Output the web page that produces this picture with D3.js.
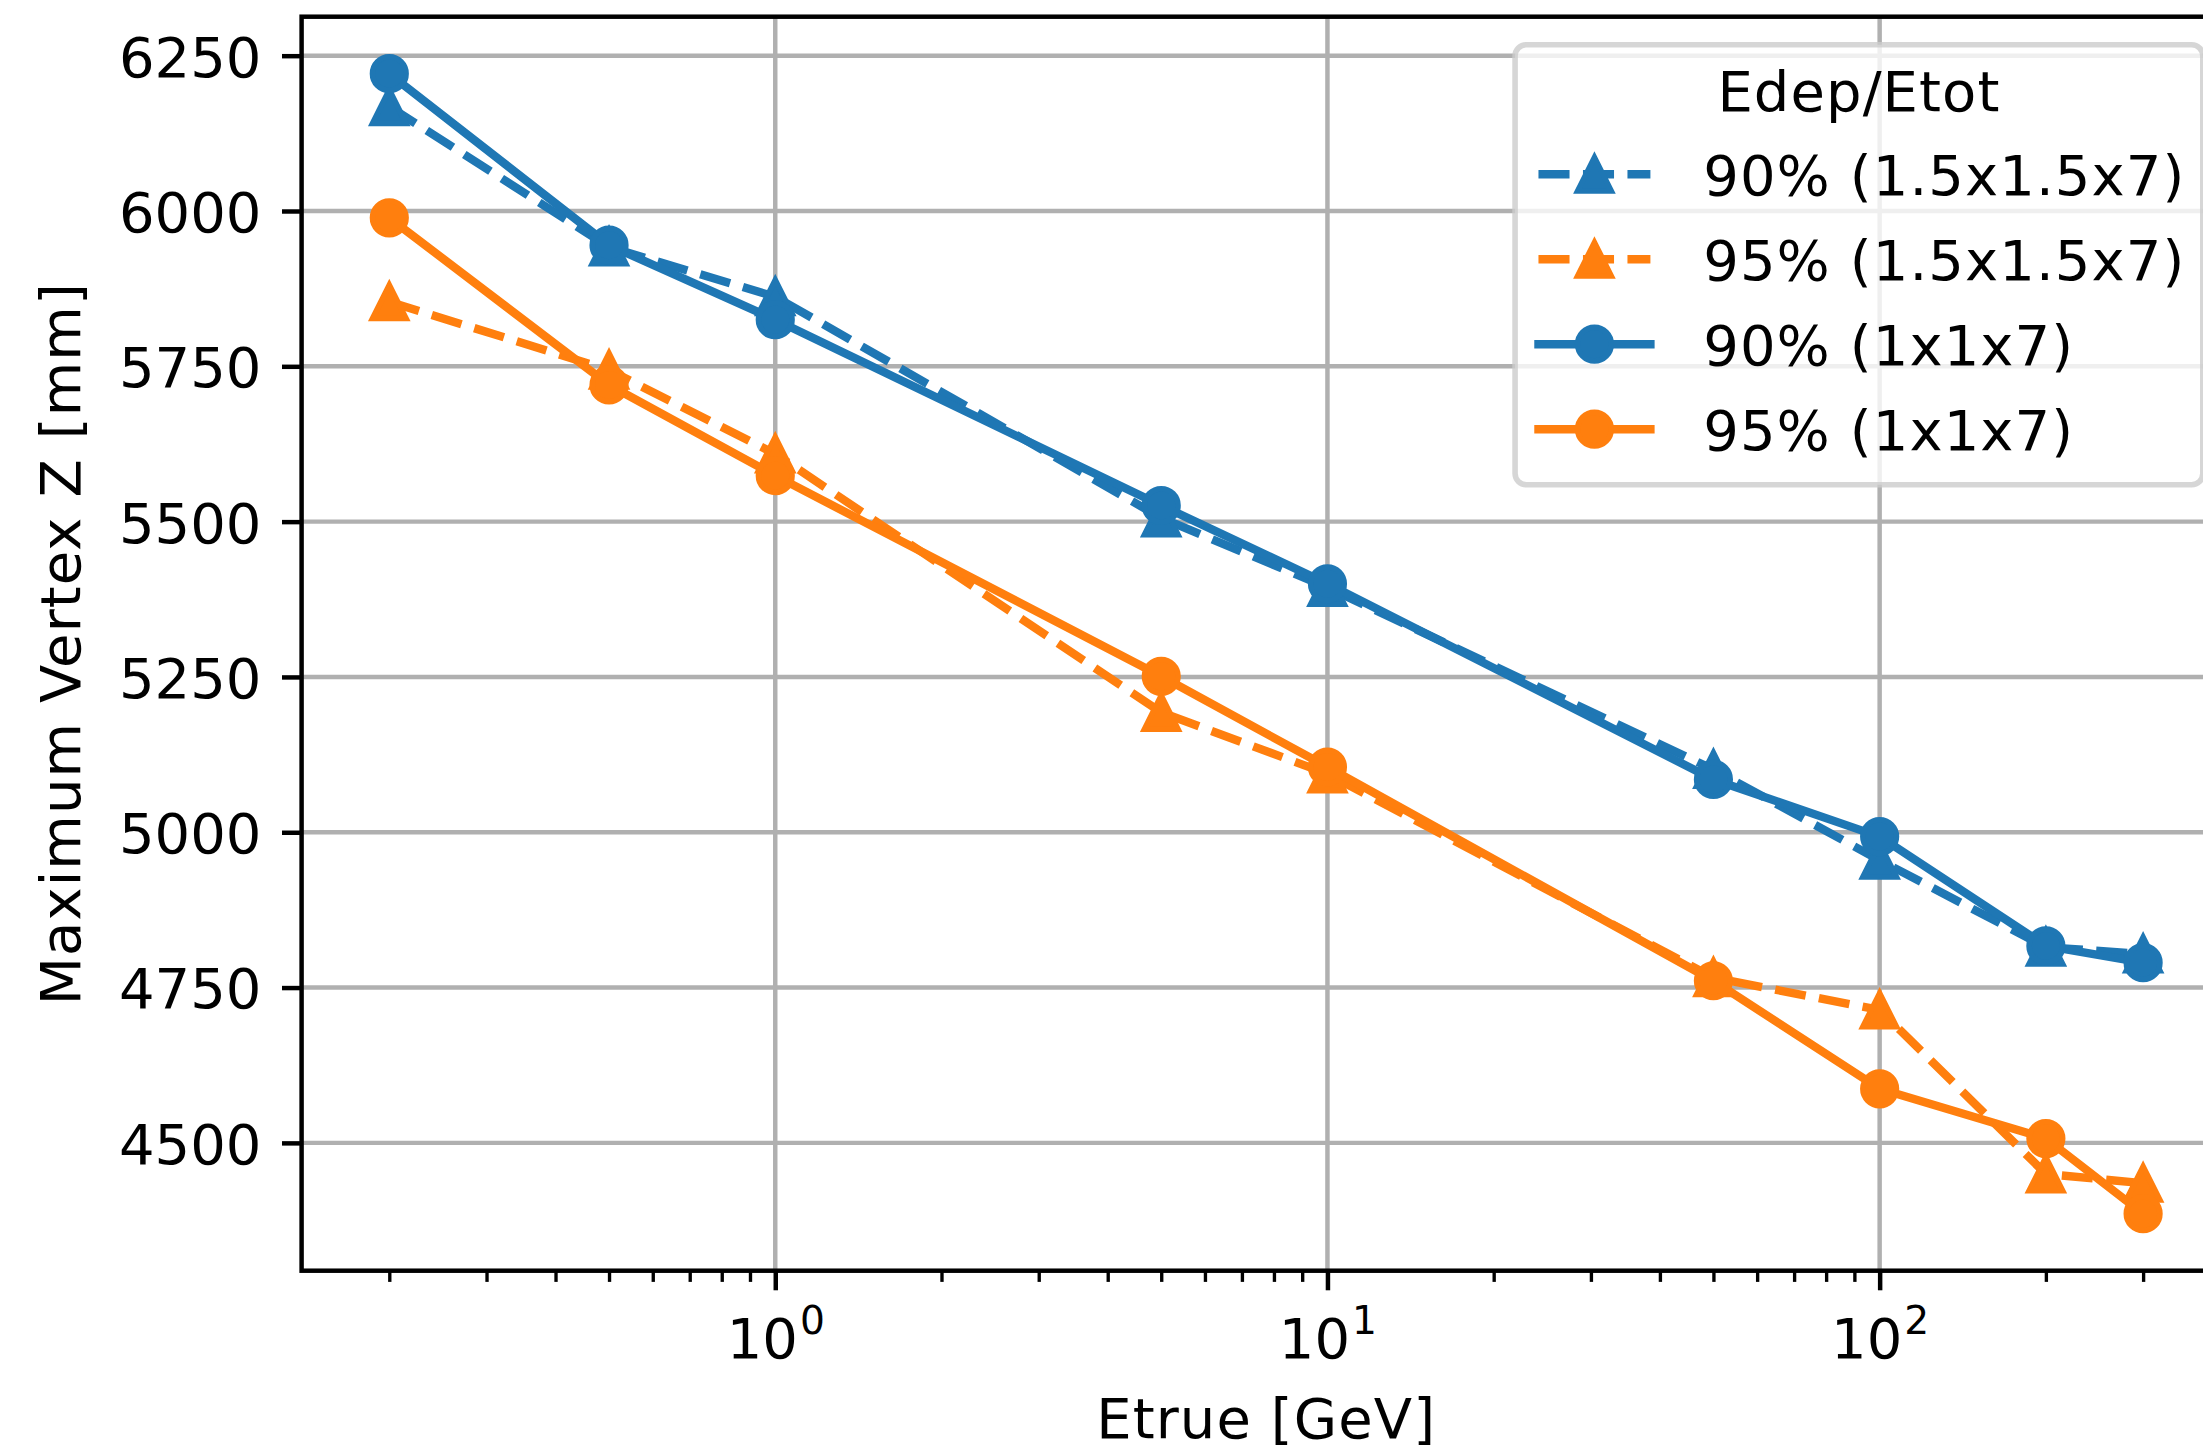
<!DOCTYPE html>
<html>
<head>
<meta charset="utf-8">
<script src="https://cdn.jsdelivr.net/npm/d3@7"></script>
<style>
  html, body { margin: 0; padding: 0; background: #ffffff; }
  svg { display: block; }
  text { font-family: "DejaVu Sans", sans-serif; fill: #000; }
  .wide { letter-spacing: 1.1px; }
</style>
</head>
<body>
<svg id="chart" width="2203" height="1449"></svg>
<script>
// ---- data ----
const energies = [0.2, 0.5, 1, 5, 10, 50, 100, 200, 300];   // Etrue [GeV]

const tri90  = [6168, 5942, 5862, 5506, 5394, 5101, 4955, 4815, 4804];  // 90% (1.5x1.5x7)
const tri95  = [5854, 5744, 5609, 5193, 5094, 4766, 4714, 4450, 4435];  // 95% (1.5x1.5x7)
const circ90 = [6221, 5945, 5825, 5526, 5400, 5085, 4993, 4817, 4790];  // 90% (1x1x7)
const circ95 = [5989, 5720, 5574, 5251, 5105, 4761, 4587, 4507, 4386];  // 95% (1x1x7)

const seriesLabels = ["90% (1.5x1.5x7)", "95% (1.5x1.5x7)", "90% (1x1x7)", "95% (1x1x7)"];
const legendTitle = "Edep/Etot";
const yTickValues = [4500, 4750, 5000, 5250, 5500, 5750, 6000, 6250];
const xMajorExponents = [0, 1, 2];
const xLabel = "Etrue [GeV]";
const yLabel = "Maximum Vertex Z [mm]";

// ---- styling ----
const PT = 403 / 72;            // pixels per point
const FS = 10 * PT;             // font size
const BLUE = "#1f77b4", ORANGE = "#ff7f0e";
const series = [
  { label: seriesLabels[0], values: tri90,  color: BLUE,   marker: "tri",  dashed: true },
  { label: seriesLabels[1], values: tri95,  color: ORANGE, marker: "tri",  dashed: true },
  { label: seriesLabels[2], values: circ90, color: BLUE,   marker: "circ", dashed: false },
  { label: seriesLabels[3], values: circ95, color: ORANGE, marker: "circ", dashed: false }
];

const plot = { left: 301.6, top: 16.7, right: 2230.8, bottom: 1270.7 };

const svg = d3.select("#chart");

// ---- scales (5% padding like an autoscaled axes) ----
const lx = energies.map(Math.log10);
const lxMin = d3.min(lx), lxMax = d3.max(lx), lxPad = 0.05 * (lxMax - lxMin);
const x = d3.scaleLog()
  .domain([Math.pow(10, lxMin - lxPad), Math.pow(10, lxMax + lxPad)])
  .range([plot.left, plot.right]);

const allY = [].concat(tri90, tri95, circ90, circ95);
const yMin = d3.min(allY), yMax = d3.max(allY), yPad = 0.05 * (yMax - yMin);
const y = d3.scaleLinear()
  .domain([yMin - yPad, yMax + yPad])
  .range([plot.bottom, plot.top]);

// ---- grid ----
const grid = svg.append("g").attr("stroke", "#b0b0b0").attr("stroke-width", 0.8 * PT);
xMajorExponents.forEach(e => {
  const v = Math.pow(10, e);
  grid.append("line").attr("x1", x(v)).attr("x2", x(v)).attr("y1", plot.top).attr("y2", plot.bottom);
});
yTickValues.forEach(v => {
  grid.append("line").attr("x1", plot.left).attr("x2", plot.right).attr("y1", y(v)).attr("y2", y(v));
});

// ---- series ----
svg.append("clipPath").attr("id", "plotclip").append("rect")
  .attr("x", plot.left).attr("y", plot.top)
  .attr("width", plot.right - plot.left).attr("height", plot.bottom - plot.top);

const MS = 6 * PT;        // marker size
const MEW = 1 * PT;       // marker edge width
const LW = 1.5 * PT;      // line width

function triPath(cx, cy) {
  const h = MS / 2;
  return `M${cx},${cy - h}L${cx - h},${cy + h}L${cx + h},${cy + h}Z`;
}
function drawMarker(g, kind, cx, cy, color) {
  if (kind === "tri") {
    g.append("path").attr("d", triPath(cx, cy))
      .attr("fill", color).attr("stroke", color).attr("stroke-width", MEW)
      .attr("stroke-linejoin", "miter");
  } else {
    g.append("circle").attr("cx", cx).attr("cy", cy).attr("r", MS / 2)
      .attr("fill", color).attr("stroke", color).attr("stroke-width", MEW);
  }
}

const line = d3.line().x(d => x(d[0])).y(d => y(d[1]));
const dataG = svg.append("g").attr("clip-path", "url(#plotclip)");
series.forEach(s => {
  const pts = energies.map((e, i) => [e, s.values[i]]);
  const g = dataG.append("g");
  g.append("path").attr("d", line(pts))
    .attr("fill", "none").attr("stroke", s.color).attr("stroke-width", LW)
    .attr("stroke-linejoin", "round")
    .attr("stroke-linecap", s.dashed ? "butt" : "square")
    .attr("stroke-dasharray", s.dashed ? `${3.7 * LW} ${1.6 * LW}` : null);
  pts.forEach(p => drawMarker(g, s.marker, x(p[0]), y(p[1]), s.color));
});

// ---- spines ----
const spines = svg.append("g").attr("stroke", "#000").attr("stroke-width", 0.8 * PT)
  .attr("stroke-linecap", "square").attr("fill", "none");
spines.append("rect").attr("x", plot.left).attr("y", plot.top)
  .attr("width", plot.right - plot.left).attr("height", plot.bottom - plot.top);

// ---- y axis ----
const yAxis = svg.append("g").attr("transform", `translate(${plot.left},0)`)
  .call(d3.axisLeft(y).tickValues(yTickValues).tickSize(3.5 * PT).tickPadding(3.5 * PT).tickFormat(d3.format("d")));
yAxis.select(".domain").remove();
yAxis.selectAll(".tick line").attr("stroke", "#000").attr("stroke-width", 0.8 * PT);
yAxis.selectAll(".tick text")
  .attr("font-family", "DejaVu Sans").attr("font-size", FS).attr("fill", "#000")
  .attr("dy", null).attr("y", 0.3645 * FS).attr("x", -(3.5 * PT + 3.5 * PT + 1));

// ---- x axis (log, major + minor) ----
const xMinor = [];
for (let e = -1; e <= 2; e++) {
  for (let m = 2; m <= 9; m++) {
    const v = m * Math.pow(10, e);
    if (v >= x.domain()[0] && v <= x.domain()[1]) xMinor.push(v);
  }
}
const xMinorAxis = svg.append("g").attr("transform", `translate(0,${plot.bottom})`)
  .call(d3.axisBottom(x).tickValues(xMinor).tickSize(2 * PT).tickFormat(""));
xMinorAxis.select(".domain").remove();
xMinorAxis.selectAll(".tick line").attr("stroke", "#000").attr("stroke-width", 0.6 * PT);

const xMajor = xMajorExponents.map(e => Math.pow(10, e));
const xAxis = svg.append("g").attr("transform", `translate(0,${plot.bottom})`)
  .call(d3.axisBottom(x).tickValues(xMajor).tickSize(3.5 * PT).tickFormat(""));
xAxis.select(".domain").remove();
xAxis.selectAll(".tick line").attr("stroke", "#000").attr("stroke-width", 0.8 * PT);
xAxis.selectAll(".tick").each(function(d, i) {
  const t = d3.select(this).append("text")
    .attr("font-family", "DejaVu Sans").attr("font-size", FS)
    .attr("text-anchor", "middle").attr("y", 1358 - plot.bottom).attr("fill", "#000");
  t.append("tspan").text("10");
  t.append("tspan").attr("font-size", 0.7 * FS).attr("dy", -0.42 * FS).attr("dx", 2)
    .text(String(xMajorExponents[i]));
});

// ---- axis labels ----
svg.append("text").attr("class", "wide")
  .attr("x", (plot.left + plot.right) / 2).attr("y", 1438)
  .attr("text-anchor", "middle").attr("font-size", FS).text(xLabel);
svg.append("text").attr("class", "wide")
  .attr("transform", `translate(80,${(plot.top + plot.bottom) / 2}) rotate(-90)`)
  .attr("text-anchor", "middle").attr("font-size", FS).text(yLabel);

// ---- legend ----
const leg = svg.append("g");
const measure = leg.append("text").attr("class", "wide").attr("font-size", FS).attr("opacity", 0);
const textW = d3.max(seriesLabels, s => { measure.text(s); return measure.node().getComputedTextLength(); });
measure.remove();

const pad = 0.4 * FS, handleLen = 2 * FS, handlePad = 0.8 * FS;
const legW = pad + handleLen + handlePad + textW + pad + 4;
const legRight = plot.right - 0.5 * FS;
const legTop = plot.top + 0.5 * FS;
const legLeft = legRight - legW;
const rowStep = 85;
const legH = 440;

leg.append("rect")
  .attr("x", legLeft).attr("y", legTop).attr("width", legW).attr("height", legH)
  .attr("rx", 0.2 * FS).attr("ry", 0.2 * FS)
  .attr("fill", "rgba(255,255,255,0.8)").attr("stroke", "rgba(204,204,204,0.8)")
  .attr("stroke-width", 1 * PT);

leg.append("text").attr("class", "wide")
  .attr("x", legLeft + legW / 2).attr("y", legTop + 66)
  .attr("text-anchor", "middle").attr("font-size", FS).text(legendTitle);

series.forEach((s, i) => {
  const cy = legTop + 129.5 + i * rowStep;
  const hx0 = legLeft + pad + 1;
  const hx1 = hx0 + handleLen;
  leg.append("line").attr("x1", hx0).attr("x2", hx1).attr("y1", cy).attr("y2", cy)
    .attr("stroke", s.color).attr("stroke-width", LW)
    .attr("stroke-linecap", s.dashed ? "butt" : "square")
    .attr("stroke-dasharray", s.dashed ? `${3.7 * LW} ${1.6 * LW}` : null);
  drawMarker(leg, s.marker, (hx0 + hx1) / 2, cy, s.color);
  leg.append("text").attr("class", "wide").attr("x", hx1 + handlePad + 8).attr("y", cy + 0.3645 * FS)
    .attr("font-size", FS).text(s.label);
});
</script>
</body>
</html>
